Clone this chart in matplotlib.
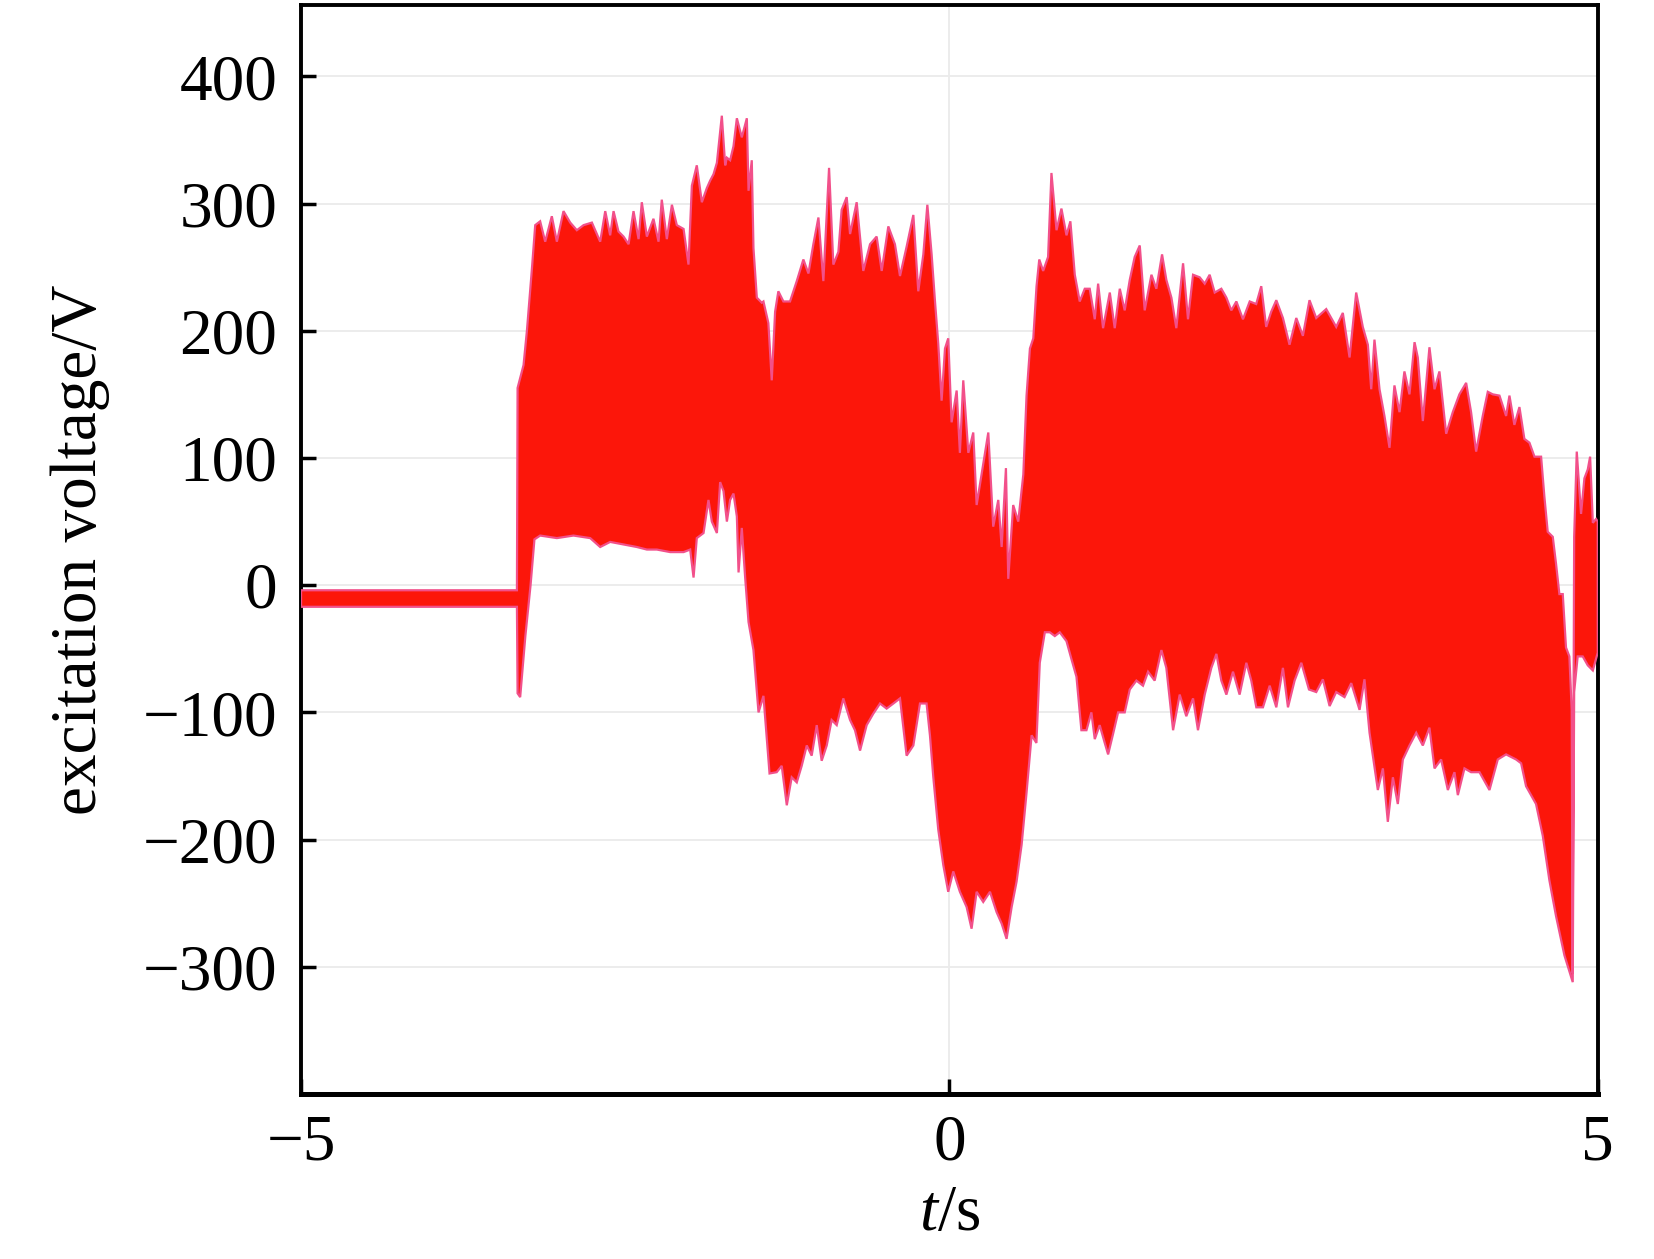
import numpy as np
import matplotlib
matplotlib.use("Agg")
import matplotlib.pyplot as plt

# ---- data (envelope of the excitation voltage) ----
t_upper = [-5.0, -3.335, -3.330, -3.284, -3.258, -3.220, -3.194, -3.156, -3.117, -3.066,
           -3.027, -2.976, -2.924, -2.873, -2.821, -2.757, -2.693, -2.654, -2.616, -2.590,
           -2.552, -2.513, -2.474, -2.436, -2.397, -2.372, -2.333, -2.282, -2.243, -2.218,
           -2.179, -2.140, -2.102, -2.050, -2.012, -1.986, -1.948, -1.909, -1.871, -1.845,
           -1.819, -1.793, -1.755, -1.729, -1.716, -1.691, -1.665, -1.639, -1.601, -1.562,
           -1.549, -1.524, -1.511, -1.485, -1.447, -1.434, -1.396, -1.370, -1.344, -1.319,
           -1.280, -1.229, -1.177, -1.126, -1.087, -1.049, -1.010, -0.972, -0.928, -0.895,
           -0.856, -0.831, -0.792, -0.766, -0.715, -0.664, -0.612, -0.561, -0.522, -0.471,
           -0.420, -0.381, -0.330, -0.278, -0.240, -0.201, -0.170, -0.137, -0.111, -0.086,
           -0.060, -0.034, -0.009, 0.017, 0.056, 0.081, 0.107, 0.146, 0.184, 0.210,
           0.248, 0.300, 0.338, 0.377, 0.403, 0.436, 0.454, 0.492, 0.531, 0.570,
           0.595, 0.621, 0.647, 0.672, 0.693, 0.723, 0.761, 0.787, 0.826, 0.864,
           0.903, 0.933, 0.967, 1.005, 1.044, 1.082, 1.121, 1.147, 1.185, 1.237,
           1.275, 1.314, 1.352, 1.391, 1.429, 1.468, 1.506, 1.558, 1.596, 1.640,
           1.673, 1.712, 1.750, 1.802, 1.840, 1.879, 1.930, 1.969, 2.007, 2.046,
           2.097, 2.136, 2.174, 2.213, 2.264, 2.316, 2.366, 2.405, 2.443, 2.482,
           2.521, 2.572, 2.623, 2.675, 2.726, 2.777, 2.829, 2.906, 2.983, 3.034,
           3.086, 3.137, 3.188, 3.227, 3.253, 3.278, 3.317, 3.355, 3.394, 3.432,
           3.471, 3.509, 3.548, 3.587, 3.612, 3.651, 3.702, 3.741, 3.779, 3.831,
           3.882, 3.933, 3.985, 4.023, 4.062, 4.113, 4.152, 4.190, 4.242, 4.293,
           4.319, 4.357, 4.396, 4.434, 4.473, 4.512, 4.563, 4.588, 4.614, 4.653,
           4.678, 4.704, 4.730, 4.755, 4.781, 4.799, 4.806, 4.818, 4.838, 4.871,
           4.897, 4.923, 4.941, 4.962, 4.987, 5.0]
v_upper = [-4, -4, 155, 173, 200, 248, 283, 286, 270, 290,
           270, 294, 285, 279, 283, 285, 270, 294, 275, 294,
           278, 274, 268, 294, 272, 301, 274, 288, 270, 303,
           272, 299, 283, 280, 252, 314, 330, 301, 312, 318,
           323, 332, 369, 330, 336, 334, 345, 367, 352, 367,
           310, 334, 265, 226, 222, 223, 206, 161, 215, 231,
           223, 223, 239, 256, 245, 268, 289, 239, 328, 252,
           262, 295, 305, 276, 301, 247, 268, 274, 247, 282,
           268, 243, 266, 291, 231, 260, 299, 260, 223, 190,
           145, 186, 194, 128, 153, 104, 161, 104, 120, 63,
           87, 120, 46, 67, 30, 92, 5, 63, 50, 87,
           149, 186, 194, 235, 256, 247, 258, 324, 279, 296,
           275, 286, 244, 223, 233, 233, 209, 237, 202, 230,
           202, 233, 216, 240, 258, 267, 216, 244, 233, 260,
           240, 226, 202, 253, 209, 244, 242, 237, 244, 230,
           233, 226, 216, 223, 209, 223, 221, 235, 203, 215,
           224, 210, 189, 210, 196, 224, 210, 217, 203, 214,
           179, 230, 203, 189, 154, 193, 154, 133, 108, 157,
           136, 168, 150, 191, 179, 129, 187, 154, 168, 119,
           136, 150, 159, 136, 105, 133, 152, 150, 149, 133,
           149, 126, 140, 115, 112, 101, 101, 70, 42, 38,
           17, -7, -7, -49, -56, -98, -305, 38, 105, 56,
           84, 91, 101, 49, 52, 50]

t_lower = [-5.0, -3.335, -3.330, -3.310, -3.270, -3.230, -3.200, -3.156, -3.027, -2.899,
           -2.770, -2.693, -2.616, -2.513, -2.410, -2.333, -2.256, -2.153, -2.050, -1.999,
           -1.973, -1.948, -1.896, -1.858, -1.832, -1.793, -1.768, -1.742, -1.716, -1.691,
           -1.665, -1.639, -1.626, -1.601, -1.575, -1.549, -1.511, -1.472, -1.434, -1.387,
           -1.332, -1.293, -1.254, -1.216, -1.177, -1.139, -1.100, -1.062, -1.023, -0.985,
           -0.946, -0.908, -0.869, -0.818, -0.766, -0.728, -0.689, -0.638, -0.587, -0.535,
           -0.484, -0.432, -0.381, -0.330, -0.278, -0.227, -0.176, -0.150, -0.124, -0.086,
           -0.047, -0.009, 0.030, 0.081, 0.133, 0.171, 0.210, 0.261, 0.313, 0.364,
           0.403, 0.441, 0.480, 0.518, 0.557, 0.595, 0.634, 0.671, 0.697, 0.736,
           0.774, 0.813, 0.851, 0.903, 0.941, 0.980, 1.018, 1.057, 1.095, 1.121,
           1.159, 1.198, 1.224, 1.262, 1.301, 1.352, 1.391, 1.442, 1.493, 1.532,
           1.583, 1.635, 1.673, 1.725, 1.776, 1.827, 1.879, 1.917, 1.969, 2.020,
           2.059, 2.097, 2.136, 2.187, 2.238, 2.290, 2.328, 2.367, 2.418, 2.470,
           2.521, 2.572, 2.611, 2.662, 2.714, 2.773, 2.829, 2.880, 2.932, 2.983,
           3.047, 3.099, 3.163, 3.201, 3.240, 3.304, 3.343, 3.381, 3.420, 3.458,
           3.497, 3.548, 3.600, 3.651, 3.702, 3.741, 3.792, 3.844, 3.895, 3.921,
           3.972, 4.023, 4.088, 4.165, 4.229, 4.293, 4.370, 4.409, 4.447, 4.524,
           4.576, 4.627, 4.678, 4.743, 4.807, 4.818, 4.845, 4.884, 4.923, 4.962,
           5.0]
v_lower = [-17, -17, -85, -88, -40, 0, 36, 39, 37, 39,
           37, 30, 34, 32, 30, 28, 28, 26, 26, 28,
           6, 37, 41, 67, 50, 41, 81, 74, 50, 67,
           72, 54, 10, 45, 6, -29, -51, -100, -87, -148,
           -147, -142, -173, -151, -155, -142, -126, -134, -110, -138,
           -126, -106, -110, -89, -106, -114, -130, -110, -101, -93,
           -97, -93, -89, -134, -126, -93, -93, -118, -151, -192,
           -220, -241, -225, -241, -253, -270, -241, -249, -241, -257,
           -266, -278, -253, -233, -204, -163, -118, -124, -61, -37,
           -37, -40, -37, -44, -58, -72, -114, -114, -100, -121,
           -110, -124, -133, -117, -100, -100, -82, -75, -79, -68,
           -75, -51, -65, -114, -86, -103, -89, -114, -86, -65,
           -54, -75, -86, -68, -86, -61, -75, -96, -96, -79,
           -96, -65, -96, -75, -61, -82, -84, -74, -95, -84,
           -88, -77, -98, -74, -116, -161, -144, -186, -151, -172,
           -137, -126, -116, -126, -112, -144, -137, -161, -147, -165,
           -144, -147, -147, -161, -137, -133, -137, -140, -158, -172,
           -197, -232, -260, -291, -312, -84, -56, -56, -63, -67,
           -53]

y_ticks = [-300, -200, -100, 0, 100, 200, 300, 400]
x_ticks = [-5, 0, 5]

# ---- style ----
plt.rcParams['font.family'] = ['Liberation Serif', 'DejaVu Serif']
plt.rcParams['mathtext.fontset'] = 'custom'
plt.rcParams['mathtext.rm'] = 'Liberation Serif'
plt.rcParams['mathtext.it'] = 'Liberation Serif:italic'

fig = plt.figure(figsize=(16.54, 12.59), dpi=100)
ax = fig.add_axes([0.182, 0.131, 0.784, 0.865])

red = '#FC160A'
pink = '#F2508A'

poly_t = np.concatenate([np.asarray(t_upper), np.asarray(t_lower)[::-1]])
poly_v = np.concatenate([np.asarray(v_upper), np.asarray(v_lower)[::-1]])
ax.fill(poly_t, poly_v, facecolor=red, edgecolor=pink, linewidth=1.6, zorder=3,
        joinstyle='miter')

ax.set_xlim(-5, 5)
ax.set_ylim(-400, 456)
ax.set_xticks(x_ticks)
ax.set_yticks(y_ticks)
ax.grid(True, color='#EBEBEB', linewidth=1.3, zorder=0)
ax.set_axisbelow(True)

ax.tick_params(axis='both', direction='in', length=11, width=2.5, labelsize=47,
               top=False, right=False, color='black')
ax.tick_params(axis='y', pad=17)
ax.tick_params(axis='x', pad=14)

for side in ['left', 'top', 'right']:
    ax.spines[side].set_linewidth(2.8)
ax.spines['bottom'].set_linewidth(3.6)

ax.set_ylabel('excitation voltage/V', fontsize=47)
ax.yaxis.set_label_coords(-0.147, 0.5)
ax.set_xlabel(r'$t$/s', fontsize=47)
ax.xaxis.set_label_coords(0.5, -0.083)

fig.savefig('out.png', dpi=100)
